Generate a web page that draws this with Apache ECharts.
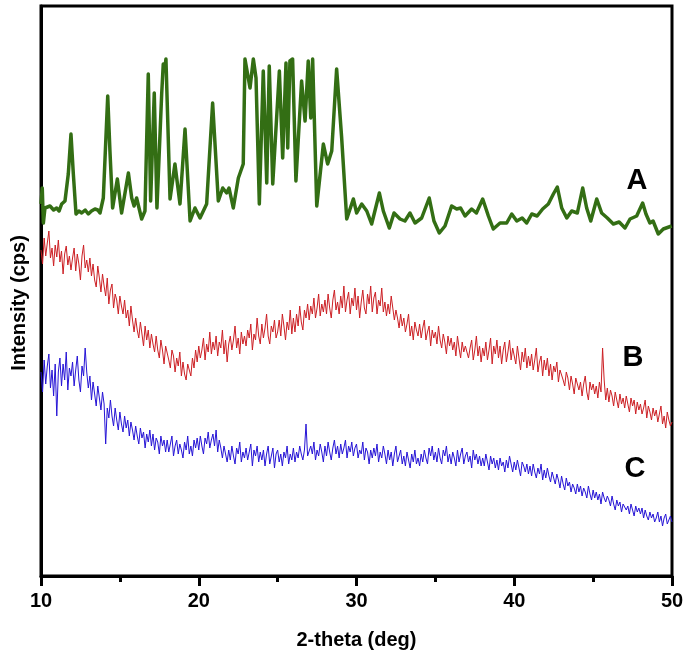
<!DOCTYPE html>
<html><head><meta charset="utf-8">
<script src="https://cdn.jsdelivr.net/npm/echarts@6/dist/echarts.min.js"></script>
<style>html,body{margin:0;padding:0;background:#fff}#c{width:688px;height:666px}</style>
</head><body><div id="c"></div>
<script>
// 2-theta scan grid for the amorphous patterns B and C
const thetaStart = 10, thetaStep = 0.1;

// Pattern A (crystalline) : [2-theta, intensity]
const patternA = [
[10.0,372],[10.08,388],[10.15,353],[10.25,368],[10.57,370],[10.8,366],[10.99,368],[11.15,365],[11.31,372],[11.52,375],
[11.73,402],[11.9,442],[12.05,402],[12.22,362],[12.4,365],[12.58,363],[12.8,366],[13.0,362],[13.2,365],[13.42,367],
[13.6,366],[13.74,363],[13.95,378],[14.23,480],[14.37,425],[14.54,368],[14.84,397],[15.11,363],[15.54,403],[15.75,378],
[15.9,370],[16.06,378],[16.38,357],[16.59,365],[16.8,502],[16.95,375],[17.18,483],[17.35,368],[17.65,482],[17.75,512],
[17.86,508],[17.92,517],[18.18,377],[18.49,412],[18.81,372],[19.13,447],[19.45,355],[19.76,368],[20.08,358],[20.5,372],
[20.88,473],[21.24,375],[21.52,388],[21.77,383],[21.92,388],[22.19,368],[22.51,398],[22.82,412],[22.93,517],[23.25,488],
[23.46,517],[23.63,498],[23.84,372],[24.09,505],[24.31,393],[24.47,510],[24.69,392],[25.11,505],[25.32,418],[25.53,513],
[25.64,428],[25.78,515],[25.95,517],[26.16,395],[26.52,495],[26.74,455],[26.94,515],[27.1,458],[27.22,517],[27.48,370],
[27.9,432],[28.17,412],[28.43,425],[28.74,507],[29.06,438],[29.38,357],[29.8,377],[30.01,363],[30.33,372],[30.65,365],
[30.96,352],[31.45,383],[31.7,365],[32.08,348],[32.38,363],[32.76,357],[33.07,355],[33.39,363],[33.71,353],[34.13,358],
[34.61,378],[34.91,355],[35.25,343],[35.61,350],[36.03,370],[36.35,367],[36.6,368],[36.88,360],[37.3,367],[37.6,363],
[38.0,377],[38.36,360],[38.67,347],[39.1,353],[39.52,353],[39.84,362],[40.16,355],[40.5,358],[40.79,353],[41.11,362],
[41.45,360],[41.8,367],[42.16,372],[42.48,382],[42.73,389],[43.01,368],[43.33,358],[43.64,365],[44.0,363],[44.34,388],
[44.59,368],[44.85,355],[45.23,377],[45.54,363],[45.9,358],[46.28,352],[46.65,354],[47.02,348],[47.34,357],[47.76,360],
[48.14,373],[48.35,362],[48.6,353],[48.8,355],[49.13,342],[49.45,347],[49.98,350]
];

// Pattern B intensities, one per grid step from 10.0 to 50.0 (one row per degree)
const patternB = [
326,312,338,320,333,345,318,328,310,331,
319,336,314,325,302,322,330,311,320,306,
318,328,305,322,312,296,320,331,308,316,
304,318,300,312,296,289,310,298,284,302,
290,280,298,272,286,292,268,282,276,262,
280,270,262,276,258,266,250,270,256,244,
258,246,238,254,242,230,250,236,246,228,
242,232,224,240,226,218,236,226,212,230,
228,216,208,226,220,204,218,210,224,200,
214,202,196,212,206,200,218,208,226,214,
230,218,226,238,216,232,224,244,222,234,
226,240,220,234,228,246,222,236,214,232,
240,226,236,250,228,238,222,244,232,240,
230,246,238,252,226,242,236,258,240,232,
252,238,248,262,240,232,250,244,256,238,
244,256,240,262,250,236,254,246,266,242,
258,244,262,250,270,254,246,266,258,272,
256,270,262,278,258,268,282,260,272,264,
276,262,282,268,258,276,286,266,274,262,
280,268,290,264,276,284,262,278,270,288,
266,280,258,274,286,268,262,282,272,290,
264,278,284,262,276,270,288,264,274,260,
272,262,280,268,256,266,258,248,262,250,
258,244,252,262,240,250,236,254,246,240,
252,238,248,256,236,244,250,230,246,238,
244,232,250,236,228,242,234,222,240,230,
238,226,234,220,240,228,218,234,224,230,
232,218,228,236,216,226,240,220,230,214,
228,220,234,216,226,238,212,230,222,236,
218,230,212,226,234,214,224,236,216,228,
226,212,230,218,206,224,214,228,208,220,
210,222,206,216,228,204,214,220,200,216,
206,218,200,212,196,210,204,214,194,206,
208,196,190,204,198,186,200,192,182,198,
196,186,194,180,192,200,184,176,194,186,
192,182,190,178,194,184,228,196,176,188,
174,186,180,170,184,176,168,182,172,178,
168,180,172,164,178,170,176,162,174,166,
172,162,168,176,158,170,164,156,168,160,
166,154,162,170,152,160,148,164,156,150,
154
];

// Pattern C intensities, one per grid step from 10.0 to 50.0 (one row per degree)
const patternC = [
204,184,216,192,210,222,188,206,180,212,
160,204,218,190,212,196,224,186,208,200,
214,190,206,220,196,184,210,200,228,204,
188,200,176,194,182,170,190,178,166,184,
172,132,168,158,176,160,150,168,156,146,
164,152,144,160,148,156,140,154,146,136,
150,140,132,148,138,144,128,142,134,146,
130,142,126,138,134,122,140,130,136,124,
136,124,132,140,120,130,136,122,132,126,
118,134,126,140,122,130,120,136,128,138,
126,140,130,122,138,132,144,128,136,142,
130,146,124,136,128,118,130,122,114,126,
116,130,120,112,128,122,134,114,124,118,
128,116,124,132,110,126,120,130,114,124,
116,126,110,122,130,112,120,128,108,122,
126,114,122,110,124,118,130,112,122,116,
128,114,124,118,130,122,116,126,152,120,
118,130,122,134,116,126,120,132,124,114,
130,120,134,124,116,128,136,122,130,118,
132,122,128,136,118,130,124,134,120,128,
132,118,126,122,134,116,128,124,112,126,
118,128,120,132,114,124,118,130,122,112,
126,116,124,110,122,130,114,120,126,112,
120,110,124,116,108,122,114,126,112,118,
110,122,114,126,118,112,128,120,130,116,
124,114,128,118,112,126,120,130,114,122,
112,124,118,110,126,114,122,128,112,120,
124,114,120,108,126,116,122,112,120,110,
118,110,122,114,106,120,112,118,108,116,
106,118,110,114,104,116,108,120,112,104,
114,106,116,108,100,114,110,104,112,102,
110,100,112,104,98,108,102,112,96,106,
98,108,100,94,104,98,92,102,96,88,
100,92,86,98,90,94,84,92,88,82,
92,84,90,80,88,84,78,90,82,76,
86,78,84,76,82,72,84,78,74,80,
76,70,80,72,66,76,70,74,64,72,
74,66,70,62,72,66,60,70,64,68,
62,68,58,66,60,56,64,58,62,54,
58,64,54,60,50,58,62,52,56,60,
54
];

const xTickValues = [10, 20, 30, 40, 50];
const curveLabels = ['A', 'B', 'C'];

function onGrid(values) {
  return values.map((v, i) => [+(thetaStart + i * thetaStep).toFixed(2), v]);
}

const FONT = "'Liberation Sans', Arial, sans-serif";
const chart = echarts.init(document.getElementById('c'), null, {renderer: 'canvas'});
chart.setOption({
  animation: false,
  backgroundColor: '#fff',
  grid: {left: 41, right: 16, top: 6, bottom: 90, show: true, borderColor: '#000', borderWidth: 3, containLabel: false},
  xAxis: {
    type: 'value', min: xTickValues[0], max: xTickValues[xTickValues.length - 1], interval: 10,
    name: '2-theta (deg)', nameLocation: 'middle', nameGap: 54,
    nameTextStyle: {fontFamily: FONT, fontWeight: 'bold', fontSize: 20, color: '#000'},
    axisLine: {lineStyle: {color: '#000', width: 3}},
    axisTick: {show: true, inside: false, length: 10, lineStyle: {color: '#000', width: 3}},
    minorTick: {show: true, splitNumber: 2, length: 6, lineStyle: {color: '#000', width: 3}},
    axisLabel: {margin: 15, fontFamily: FONT, fontWeight: 'bold', fontSize: 20, color: '#000'},
    splitLine: {show: false}, minorSplitLine: {show: false}
  },
  yAxis: {
    type: 'value', min: 0, max: 570,
    name: 'Intensity (cps)', nameLocation: 'middle', nameGap: 12, nameRotate: 90,
    nameTextStyle: {fontFamily: FONT, fontWeight: 'bold', fontSize: 20, color: '#000', padding: [0, 24, 0, 0]},
    axisLine: {show: true, lineStyle: {color: '#000', width: 3}},
    axisTick: {show: false}, axisLabel: {show: false}, splitLine: {show: false}
  },
  series: [
    {name: 'A', type: 'line', data: patternA, showSymbol: false, symbol: 'none',
     lineStyle: {color: '#336e14', width: 3.5, join: 'round'}, z: 3},
    {name: 'B', type: 'line', data: onGrid(patternB), showSymbol: false, symbol: 'none',
     lineStyle: {color: '#cc1f24', width: 1}, z: 2},
    {name: 'C', type: 'line', data: onGrid(patternC), showSymbol: false, symbol: 'none',
     lineStyle: {color: '#2614d6', width: 1}, z: 2}
  ],
  graphic: [
    {type: 'text', x: 637, y: 181, style: {text: curveLabels[0], font: "bold 29px " + FONT, fill: '#000', align: 'center', verticalAlign: 'middle'}},
    {type: 'text', x: 633, y: 358, style: {text: curveLabels[1], font: "bold 29px " + FONT, fill: '#000', align: 'center', verticalAlign: 'middle'}},
    {type: 'text', x: 635, y: 469, style: {text: curveLabels[2], font: "bold 29px " + FONT, fill: '#000', align: 'center', verticalAlign: 'middle'}}
  ]
});
</script>
</body></html>
